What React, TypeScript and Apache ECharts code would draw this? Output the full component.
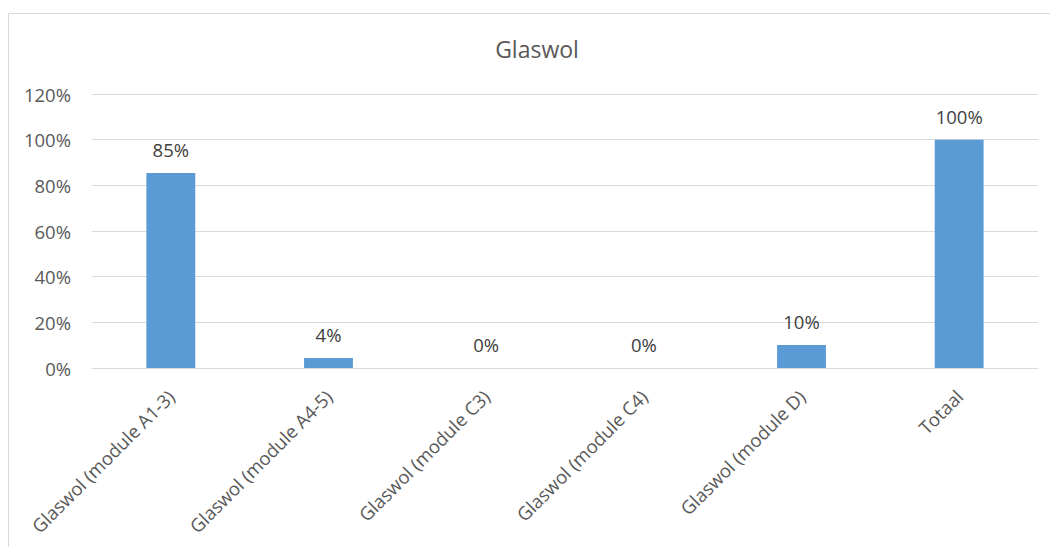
import React, { useEffect, useRef } from "react";
import * as echarts from "echarts";

const categories = [
  "Glaswol (module A1-3)",
  "Glaswol (module A4-5)",
  "Glaswol (module C3)",
  "Glaswol (module C4)",
  "Glaswol (module D)",
  "Totaal",
];
const values = [85.4, 4.4, 0, 0, 10.1, 100];
const labels = ["85%", "4%", "0%", "0%", "10%", "100%"];
const yTicks = [0, 20, 40, 60, 80, 100, 120];

const FONT = "'Open Sans', 'Noto Sans', sans-serif";
const TXT = "#595959";

export default function App() {
  const ref = useRef<HTMLDivElement>(null);
  useEffect(() => {
    const chart = echarts.init(ref.current!, undefined, { renderer: "svg" });
    chart.setOption({
      animation: false,
      backgroundColor: "#ffffff",
      title: {
        text: "Glaswol",
        left: 532,
        top: 32,
        textAlign: "center",
        textStyle: { color: TXT, fontFamily: FONT, fontSize: 23, fontWeight: "normal" },
      },
      graphic: [
        {
          type: "rect",
          shape: { x: 8.5, y: 13.5, width: 1060, height: 560 },
          style: { fill: "none", stroke: "#d9d9d9", lineWidth: 1 },
          silent: true,
        },
      ],
      grid: { left: 92, right: 12, top: 94, bottom: 179 },
      xAxis: {
        type: "category",
        data: categories,
        axisLine: { show: true, lineStyle: { color: "#d9d9d9" } },
        axisTick: { show: false },
        axisLabel: {
          rotate: 45,
          interval: 0,
          color: TXT,
          fontFamily: FONT,
          fontSize: 18.5,
          margin: 25,
        },
      },
      yAxis: {
        type: "value",
        min: yTicks[0],
        max: yTicks[yTicks.length - 1],
        interval: 20,
        axisLine: { show: false },
        axisTick: { show: false },
        splitLine: { lineStyle: { color: "#d9d9d9" } },
        axisLabel: {
          formatter: (v: number) => v + "%",
          color: TXT,
          fontFamily: FONT,
          fontSize: 18.5,
          margin: 21,
        },
      },
      series: [
        {
          type: "bar",
          data: values,
          barWidth: "31%",
          itemStyle: { color: "#5b9bd5" },
          label: {
            show: true,
            position: "top",
            distance: 14,
            formatter: (p: any) => labels[p.dataIndex],
            color: "#404040",
            fontFamily: FONT,
            fontSize: 18.5,
          },
        },
      ],
    });
    return () => chart.dispose();
  }, []);
  return (
    <div
      ref={ref}
      style={{ position: "fixed", left: 0, top: 0, width: 1050, height: 547 }}
    />
  );
}
